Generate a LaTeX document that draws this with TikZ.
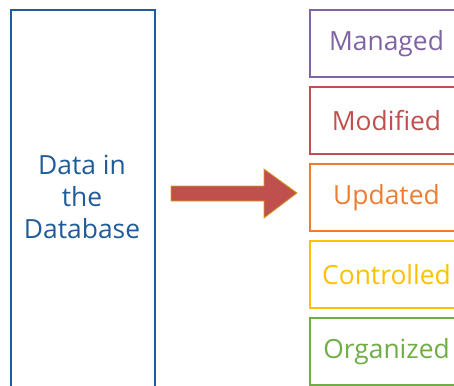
\documentclass[tikz,border=0pt]{standalone}
\usepackage{fontspec}
\setmainfont{Open Sans}
\usetikzlibrary{positioning}
\definecolor{dbblue}{HTML}{1F5C99}
\definecolor{cpurple}{HTML}{8064A2}
\definecolor{cred}{HTML}{C0504D}
\definecolor{corange}{HTML}{ED7D31}
\definecolor{cyellow}{HTML}{FFC000}
\definecolor{cgreen}{HTML}{70AD47}
\definecolor{cgold}{HTML}{D4A020}
\tikzset{
	txt/.style = {font=\fontsize{26.4}{32}\selectfont, align=center},
	dbbox/.style = {txt, draw=dbblue, text=dbblue, line width=2pt, minimum width=144pt, minimum height=380pt, inner sep=0pt},
	opbox/.style = {txt, draw=#1, text=#1, line width=2pt, minimum width=153pt, minimum height=67pt, inner sep=0pt, anchor=north west}
}

\begin{document}
\begin{tikzpicture}[x=1pt,y=-1pt]
	\useasboundingbox (0,0) rectangle (454,385);
	\clip (0,0) rectangle (454,385);
	\node[dbbox, anchor=north west] (db) at (10,9) {};
	\node[txt, text=dbblue] (dbtext) at (82,197) {Data in\\the\\Database};
	\node[opbox=cpurple] (managed) at (309,9) {Managed};
	\node[opbox=cred, below=8pt of managed.south west, anchor=north west] (modified) {Modified};
	\node[opbox=corange, below=8pt of modified.south west, anchor=north west] (updated) {Updated};
	\node[opbox=cyellow, below=8pt of updated.south west, anchor=north west] (controlled) {Controlled};
	\node[opbox=cgreen, below=8pt of controlled.south west, anchor=north west] (organized) {Organized};
	% block arrow
	\filldraw[fill=cred, draw=cgold, line width=0.8pt, line join=miter]
		(171,186) -- (264,186) -- (264,169) -- (297,193) -- (264,218) -- (264,201) -- (171,201) -- cycle;
\end{tikzpicture}
\end{document}
